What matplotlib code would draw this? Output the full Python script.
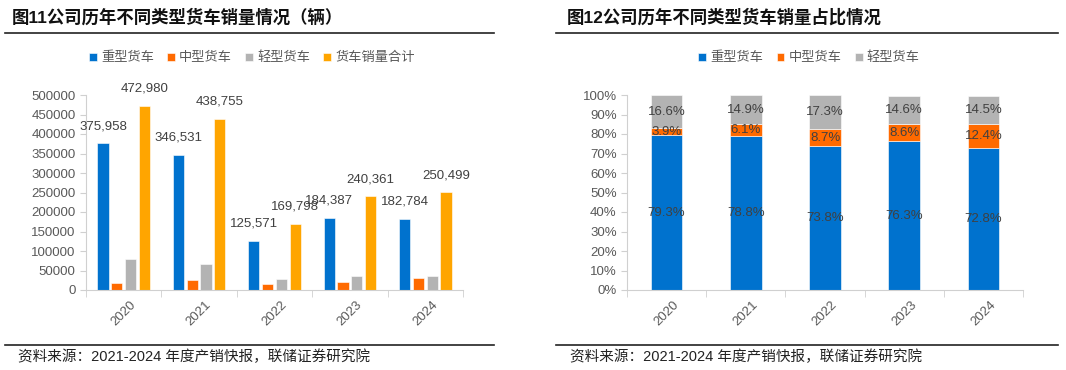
import matplotlib
matplotlib.use("Agg")
import matplotlib.pyplot as plt
import numpy as np

plt.rcParams['font.family'] = ['Liberation Sans', 'Noto Sans CJK SC', 'DejaVu Sans']

years = ["2020", "2021", "2022", "2023", "2024"]
series = ["重型货车", "中型货车", "轻型货车", "货车销量合计"]
heavy = [375958, 346531, 125571, 184387, 182784]
medium = [18447, 26790, 14789, 20692, 31050]
light = [78575, 65434, 29438, 35282, 36665]
total = [472980, 438755, 169798, 240361, 250499]

heavy_pct = [79.3, 78.8, 73.8, 76.3, 72.8]
medium_pct = [3.9, 6.1, 8.7, 8.6, 12.4]
light_pct = [16.6, 14.9, 17.3, 14.6, 14.5]

colors = ["#0072CE", "#FF6A00", "#B3B3B3", "#FFA500"]
tick_c = "#595959"
lab_c = "#404040"
spine_c = "#D0D0D0"

fig = plt.figure(figsize=(10.66, 3.70), dpi=100)

# titles, rules, footers
fig.text(12/1066, 1-17/370, "图11公司历年不同类型货车销量情况（辆）", fontsize=12.5, fontweight="bold",
         va="center", ha="left", color="#111111")
fig.text(567/1066, 1-17/370, "图12公司历年不同类型货车销量占比情况", fontsize=12.5, fontweight="bold",
         va="center", ha="left", color="#111111")
for x0, x1 in [(5, 494), (556, 1058)]:
    fig.add_artist(plt.Line2D([x0/1066, x1/1066], [1-33/370]*2, color="#222222", lw=1.2))
    fig.add_artist(plt.Line2D([x0/1066, x1/1066], [1-345/370]*2, color="#222222", lw=1.2))
fig.text(18/1066, 1-357/370, "资料来源：2021-2024 年度产销快报，联储证券研究院", fontsize=10.5,
         va="center", ha="left", color="#222222")
fig.text(570/1066, 1-357/370, "资料来源：2021-2024 年度产销快报，联储证券研究院", fontsize=10.5,
         va="center", ha="left", color="#222222")


def style_axes(ax):
    for s in ["top", "right"]:
        ax.spines[s].set_visible(False)
    ax.spines["left"].set_color(spine_c)
    ax.spines["bottom"].set_color(spine_c)
    ax.tick_params(axis="y", colors=tick_c, labelsize=9.5, length=4, color=spine_c)
    ax.tick_params(axis="x", which="minor", length=5, color=spine_c)
    ax.tick_params(axis="x", which="major", length=0, colors=tick_c, labelsize=9.5, pad=6)
    ax.set_xticks(np.arange(len(years)))
    ax.set_xticklabels(years, rotation=45, ha="center")
    ax.set_xticks(np.arange(len(years) + 1) - 0.5, minor=True)
    ax.set_xlim(-0.5, len(years) - 0.5)


# left chart
ax1 = fig.add_axes([86/1066, 1-290/370, 377/1066, 195/370])
x = np.arange(len(years))
w = 0.147
step = 0.183
data = [heavy, medium, light, total]
for i, vals in enumerate(data):
    pos = x + (i - 1.5) * step
    ax1.bar(pos, vals, w, color=colors[i], label=series[i], edgecolor="white", linewidth=0.4)
    if i in (0, 3):
        for p, v in zip(pos, vals):
            ax1.annotate(f"{v:,}", (p, v), xytext=(0, 8), textcoords="offset points",
                         ha="center", va="bottom", fontsize=9.5, color=lab_c)
ax1.set_ylim(0, 500000)
ax1.set_yticks(np.arange(0, 500001, 50000))
style_axes(ax1)
ax1.legend(loc="center", bbox_to_anchor=(252/1066, 1-58/370), bbox_transform=fig.transFigure,
           ncol=4, frameon=False, fontsize=9.5, handlelength=0.6, handleheight=0.6,
           handletextpad=0.3, columnspacing=1.0, labelcolor=tick_c)

# right chart
ax2 = fig.add_axes([627/1066, 1-290/370, 396/1066, 195/370])
bottom = np.zeros(len(years))
w2 = 0.4
for i, vals in enumerate([heavy_pct, medium_pct, light_pct]):
    vals = np.array(vals)
    ax2.bar(x, vals, w2, bottom=bottom, color=colors[i], label=series[i],
            edgecolor="white", linewidth=0.4)
    for xi, b, v in zip(x, bottom, vals):
        ax2.text(xi, b + v / 2, f"{v:.1f}%", ha="center", va="center", fontsize=9.5, color=lab_c)
    bottom += vals
ax2.set_ylim(0, 100)
ax2.set_yticks(np.arange(0, 101, 10))
ax2.set_yticklabels([f"{t}%" for t in range(0, 101, 10)])
style_axes(ax2)
ax2.legend(loc="center", bbox_to_anchor=(809/1066, 1-58/370), bbox_transform=fig.transFigure,
           ncol=3, frameon=False, fontsize=9.5, handlelength=0.6, handleheight=0.6,
           handletextpad=0.3, columnspacing=1.0, labelcolor=tick_c)

fig.savefig("out.png", dpi=100)
